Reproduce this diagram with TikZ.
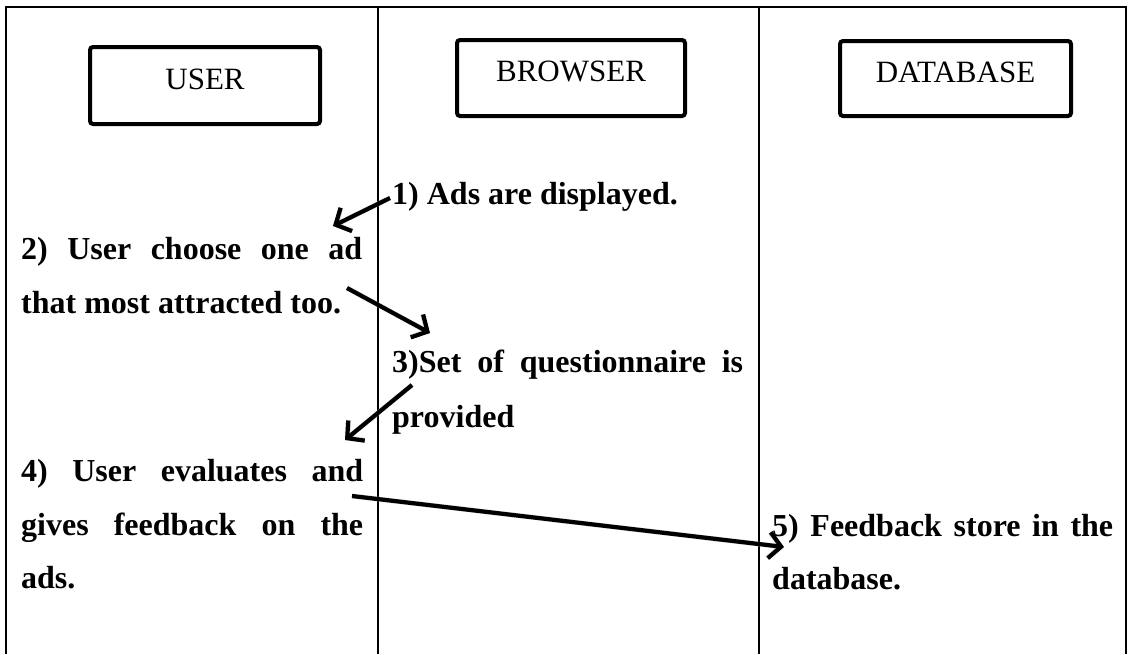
\documentclass[tikz,border=0pt]{standalone}
\usepackage{fontspec}
\setmainfont{Liberation Serif}
\usetikzlibrary{arrows.meta}
\begin{document}
\begin{tikzpicture}[x=1pt,y=-1pt,
  gridline/.style={line width=2pt, black},
  actor/.style={draw, line width=4pt, rounded corners=3pt, inner sep=0pt,
    text height=20pt, text depth=13pt, font=\fontsize{31}{36}\selectfont},
  msg/.style={anchor=base west, inner sep=0pt, font=\fontsize{32}{38}\selectfont\bfseries},
  flow/.style={line width=4.2pt, -{Straight Barb[length=12pt,width=26pt]}},
  flowshadow/.style={line width=5pt, black!30, opacity=0.45,
    -{Straight Barb[length=12pt,width=26pt]}, shift={(2,3)}}
]
\useasboundingbox (0,0) rectangle (1129,654);

% table frame (no bottom rule)
\coordinate (tl) at (6,7);
\coordinate (tr) at (1126,7);
\coordinate (bl) at (6,654);
\coordinate (br) at (1126,654);
\coordinate (d1t) at (378,7);
\coordinate (d1b) at (378,654);
\coordinate (d2t) at (759,7);
\coordinate (d2b) at (759,654);
\draw[gridline] (bl) -- (tl) -- (tr) -- (br);
\draw[gridline] (d1t) -- (d1b);
\draw[gridline] (d2t) -- (d2b);

% header boxes
\node[actor, minimum width=230pt, minimum height=77pt] (user) at (205,85.5) {USER};
\node[actor, minimum width=228pt, minimum height=76pt] (browser) at (571,78) {BROWSER};
\node[actor, minimum width=231pt, minimum height=75pt] (database) at (955.5,78.5) {DATABASE};

% messages
\node[msg] (m1)  at (392,204) {1) Ads are displayed.};
\node[msg] (m2a) at (21,259)  {\makebox[341pt][s]{2) User choose one ad}};
\node[msg] (m2b) at (21,313)  {that most attracted too.};
\node[msg] (m3a) at (392,372) {\makebox[351pt][s]{3)Set of questionnaire is}};
\node[msg] (m3b) at (392,427) {provided};
\node[msg] (m4a) at (21,481)  {\makebox[342pt][s]{4) User evaluates and}};
\node[msg] (m4b) at (21,535)  {\makebox[342pt][s]{gives feedback on the}};
\node[msg] (m4c) at (21,588)  {ads.};
\node[msg] (m5a) at (772,536) {\makebox[341pt][s]{5) Feedback store in the}};
\node[msg] (m5b) at (772,589) {database.};

% arrow end points
\coordinate (a1s) at (390,198);
\coordinate (a1e) at (333,226);
\coordinate (a2s) at (347,288);
\coordinate (a2e) at (430,333);
\coordinate (a3s) at (412,385);
\coordinate (a3e) at (345,440);
\coordinate (a4s) at (352,496);
\coordinate (a4e) at (784,547);

\draw[flowshadow] (a1s) -- (a1e);
\draw[flowshadow] (a2s) -- (a2e);
\draw[flowshadow] (a3s) -- (a3e);
\draw[flowshadow] (a4s) -- (a4e);
\draw[flow] (a1s) -- (a1e);
\draw[flow] (a2s) -- (a2e);
\draw[flow] (a3s) -- (a3e);
\draw[flow] (a4s) -- (a4e);
\end{tikzpicture}
\end{document}
